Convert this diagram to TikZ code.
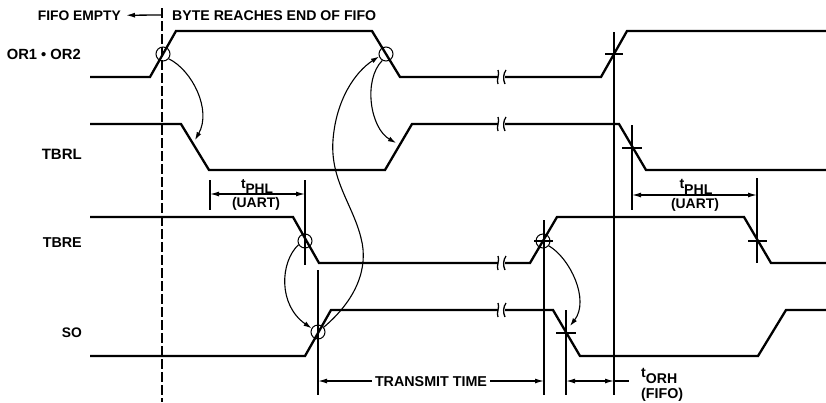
\documentclass[tikz,border=0pt]{standalone}
\usepackage{fontspec}
\usepackage{graphicx}
\setmainfont{Liberation Sans}
\usetikzlibrary{arrows.meta}
\newcommand{\fw}[2]{\resizebox{#1}{!}{#2}}
\begin{document}
\begin{tikzpicture}[x=1pt,y=-1pt,
  sig/.style={line width=2.3pt, line join=miter},
  vline/.style={line width=1.3pt},
  ring/.style={circle, draw, line width=1pt, minimum size=14pt, inner sep=0pt},
  curv/.style={line width=1.1pt, -{Latex[length=8pt,width=5pt]}},
  dimarr/.style={line width=1.3pt, {Latex[length=9pt,width=5pt]}-{Latex[length=9pt,width=5pt]}},
  onearr/.style={line width=1.3pt, -{Latex[length=9pt,width=5pt]}},
  brk/.style={line width=1.3pt},
  lab/.style={font=\fontsize{14}{16}\selectfont\bfseries, inner sep=0pt},
  dashv/.style={line width=1.3pt, dash pattern=on 10pt off 3pt},
]
\useasboundingbox (0,0) rectangle (826,402);

% ---------- labels ----------
\node[lab, anchor=base east] (lOR)   at (81,59)  {\fw{74pt}{OR1 • OR2}};
\node[lab, anchor=base east] (lTBRL) at (82,159) {\fw{40pt}{TBRL}};
\node[lab, anchor=base east] (lTBRE) at (82,247) {\fw{39pt}{TBRE}};
\node[lab, anchor=base east] (lSO)   at (82,337) {\fw{20pt}{SO}};
\node[lab, anchor=base east] (lFE)   at (121,20) {\fw{83pt}{FIFO EMPTY}};
\node[lab, anchor=base west] (lBR)   at (172,20) {\fw{204pt}{BYTE REACHES END OF FIFO}};

% ---------- dashed reference ----------
\coordinate (dT) at (162,8);
\coordinate (dB) at (162,402);
\draw[dashv] (dT) -- (dB);
\coordinate (fe0) at (161,15);
\draw[onearr] (fe0) -- ([xshift=5pt]lFE.east);

% ---------- waveforms ----------
% OR1 . OR2
\draw[sig] (90,77) -- (150,77) -- (176,31) -- (372,31) -- (400,77) -- (498,77);
\draw[sig] (505,77) -- (601,77) -- (627,31) -- (826,31);
% TBRL
\draw[sig] (90,124) -- (181,124) -- (209,170) -- (385,170) -- (412,124) -- (498,124);
\draw[sig] (505,124) -- (619,124) -- (646,170) -- (826,170);
% TBRE
\draw[sig] (90,217) -- (293,217) -- (319,263) -- (498,263);
\draw[sig] (505,263) -- (530,263) -- (557,217) -- (744,217) -- (771,263) -- (826,263);
% SO
\draw[sig] (90,356) -- (305,356) -- (331,310) -- (498,310);
\draw[sig] (505,310) -- (553,310) -- (580,356) -- (758,356) -- (786,310) -- (826,310);

% ---------- break marks ----------
\foreach \yy in {77,124,263,310}{
  \draw[brk] (498,\yy-7) .. controls (500,\yy-3) and (496,\yy+3) .. (498,\yy+7);
  \draw[brk] (506,\yy-7) .. controls (503,\yy-3) and (503,\yy+3) .. (505,\yy+7);
}

% ---------- circles ----------
\node[ring] (c1) at (163,54) {};
\node[ring] (c2) at (386,54) {};
\node[ring] (c3) at (305,241) {};
\node[ring] (c4) at (318,332) {};
\node[ring] (c5) at (543,241) {};

% ---------- vertical markers ----------
\coordinate (v1a) at (210,180); \coordinate (v1b) at (210,210);
\coordinate (v2a) at (305,180); \coordinate (v2b) at (305,265);
\coordinate (v3a) at (318,270); \coordinate (v3b) at (318,395);
\coordinate (v4a) at (544,220); \coordinate (v4b) at (544,395);
\coordinate (v5a) at (566,310); \coordinate (v5b) at (566,395);
\coordinate (v6a) at (614,32);  \coordinate (v6b) at (614,395);
\coordinate (v7a) at (632,125); \coordinate (v7b) at (632,210);
\coordinate (v8a) at (757,178); \coordinate (v8b) at (757,263);
\foreach \p in {v1,v2,v3,v4,v5,v6,v7,v8}{\draw[vline] (\p a) -- (\p b);}

% ---------- horizontal ticks ----------
\draw[vline] (605,54) -- (623,54);
\draw[vline] (622,148) -- (642,148);
\draw[vline] (534,241) -- (553,241);
\draw[vline] (748,241) -- (767,241);
\draw[vline] (556,333) -- (576,333);

% ---------- dimension arrows ----------
\coordinate (a1) at (210,194); \coordinate (a2) at (305,194);
\draw[dimarr] (a1) -- (a2);
\node[lab, anchor=base, fill=white, inner xsep=2pt] (tp1) at (257,193) {\fw{32pt}{\raisebox{5pt}{t}PHL}};
\node[lab, anchor=base] (u1) at (256,207) {\fw{48pt}{(UART)}};

\coordinate (b1) at (632,195); \coordinate (b2) at (757,195);
\draw[dimarr] (b1) -- (b2);
\node[lab, anchor=base, fill=white, inner xsep=2pt] (tp2) at (696,194) {\fw{33pt}{\raisebox{5pt}{t}PHL}};
\node[lab, anchor=base] (u2) at (695,208) {\fw{48pt}{(UART)}};

\coordinate (t1) at (318,381); \coordinate (t2) at (544,381);
\draw[dimarr] (t1) -- (t2);
\node[lab, anchor=base, fill=white, inner xsep=3pt] (tt) at (431,386) {\fw{112pt}{TRANSMIT TIME}};

\coordinate (o1) at (566,381); \coordinate (o2) at (614,381); \coordinate (o3) at (629,381);
\draw[dimarr] (o1) -- (o2);
\draw[vline] (o2) -- (o3);
\node[lab, anchor=base west] (to) at (641,383) {\fw{36pt}{\raisebox{5pt}{t}ORH}};
\node[lab, anchor=base west] (ff) at (641,398) {\fw{42pt}{(FIFO)}};

% ---------- causal curves ----------
\coordinate (e1) at (195,140);
\coordinate (e2) at (396,143);
\coordinate (e5) at (570,326);
\coordinate (s1) at (361,238);
\coordinate (s2) at (333,140);
\draw[curv] (c1.-40) .. controls (192,70) and (212,110) .. (e1);
\draw[curv] (c2.-120) .. controls (363,80) and (370,128) .. (e2);
\draw[line width=1.1pt] (c4.40) .. controls (356,300) and (369,268) .. (s1);
\draw[line width=1.1pt] (s1) .. controls (353,205) and (330,180) .. (s2);
\draw[curv] (s2) .. controls (336,100) and (355,72) .. (c2.-160);
\draw[curv] (c3.-150) .. controls (280,262) and (278,305) .. (c4.150);
\draw[curv] (c5.-40) .. controls (570,258) and (590,300) .. (e5);
\end{tikzpicture}
\end{document}
